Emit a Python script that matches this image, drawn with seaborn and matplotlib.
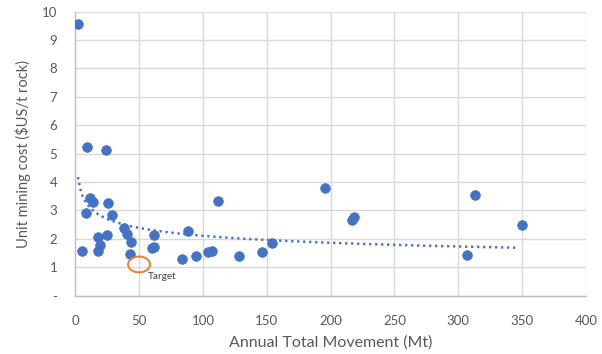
import numpy as np
import pandas as pd
import seaborn as sns
import matplotlib
matplotlib.use('Agg')
import matplotlib.pyplot as plt
from matplotlib.path import Path
from matplotlib.ticker import FuncFormatter, MultipleLocator

# values
movement_mt = [2.2, 9.0, 24.1, 5.1, 11.6, 14.2, 25.9, 8.2, 28.6, 38.4,
               40.3, 43.7, 17.6, 24.6, 19.4, 18.1, 42.9, 61.7, 59.9, 61.7,
               83.8, 94.3, 104.1, 106.8, 128.2, 112.0, 88.0, 145.9, 154.2, 196.0,
               217.1, 218.4, 313.4, 349.6, 306.6]
unit_cost = [9.57, 5.23, 5.12, 1.58, 3.45, 3.31, 3.25, 2.90, 2.84, 2.37,
             2.16, 1.89, 2.08, 2.14, 1.77, 1.58, 1.46, 2.14, 1.67, 1.70,
             1.29, 1.41, 1.53, 1.58, 1.41, 3.33, 2.29, 1.53, 1.87, 3.80,
             2.67, 2.76, 3.56, 2.50, 1.42]
target_movement = [50]
target_cost = [1.1]

# power trendline y = a * x^b as drawn in the reference
trend_a = 4.81
trend_b = -0.179

blue = '#4472C4'
orange = '#ED7D31'
grid = '#D9D9D9'
text_grey = '#595959'

sns.set_style('white')
plt.rcParams['font.family'] = ['Lato', 'DejaVu Sans']

df = pd.DataFrame({'Annual Total Movement (Mt)': movement_mt,
                   'Unit mining cost ($US/t rock)': unit_cost})

trend_x = np.linspace(min(movement_mt), 346, 200)
trend_y = trend_a * trend_x ** trend_b

fig = plt.figure(figsize=(6.02, 3.54), dpi=100)
ax = fig.add_axes([0.1249, 0.1647, 0.8485, 0.8023])

sns.scatterplot(
    data=df,
    x='Annual Total Movement (Mt)',
    y='Unit mining cost ($US/t rock)',
    color=blue,
    edgecolor=blue,
    s=48,
    zorder=3,
    ax=ax,
)
ax.plot(trend_x, trend_y, color=blue, linewidth=1.8,
        linestyle=(0, (0.9, 1.5)), zorder=2)

# slightly flattened open circle for the target
t = np.linspace(0, 2 * np.pi, 60)
ellipse = Path(np.column_stack([np.cos(t), 0.72 * np.sin(t)]))
ax.scatter(target_movement, target_cost, s=250, marker=ellipse,
           facecolors='none', edgecolors=orange, linewidths=1.4, zorder=4)
ax.annotate('Target', (target_movement[0], target_cost[0]),
            xytext=(23, -12), textcoords='offset pixels',
            ha='center', va='center', fontsize=7.2, color='#404040')

ax.set_xlim(0, 400)
ax.set_ylim(0, 10)
ax.xaxis.set_major_locator(MultipleLocator(50))
ax.yaxis.set_major_locator(MultipleLocator(1))
ax.yaxis.set_major_formatter(FuncFormatter(lambda v, p: '-' if v == 0 else f'{v:.0f}'))

ax.grid(True, color=grid, linewidth=1.0)
ax.set_axisbelow(True)
for side in ['top', 'right']:
    ax.spines[side].set_visible(False)
for side in ['left', 'bottom']:
    ax.spines[side].set_color('#BFBFBF')
    ax.spines[side].set_linewidth(1.0)

ax.tick_params(axis='both', length=0, labelsize=9.5, colors=text_grey)
ax.tick_params(axis='x', pad=14)
ax.tick_params(axis='y', pad=13)
ax.set_xlabel('Annual Total Movement (Mt)', fontsize=11.5, color=text_grey, labelpad=6)
ax.set_ylabel('Unit mining cost ($US/t rock)', fontsize=10.5, color=text_grey, labelpad=8)

fig.savefig('out.png', dpi=100)
